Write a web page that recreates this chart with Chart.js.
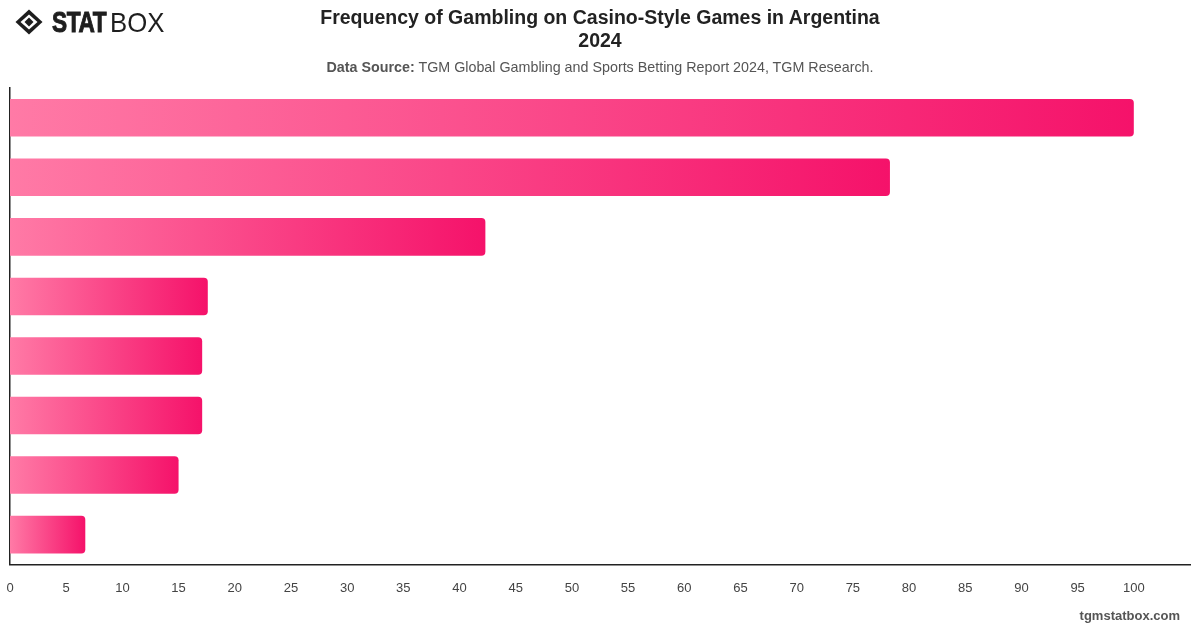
<!DOCTYPE html>
<html>
<head>
<meta charset="utf-8">
<script src="https://cdn.jsdelivr.net/npm/chart.js@4.4.1/dist/chart.umd.min.js"></script>
<style>
  html, body { margin: 0; padding: 0; background: #fff; }
  #wrap { position: relative; width: 1200px; height: 628px; overflow: hidden; font-family: "Liberation Sans", Arial, sans-serif; }
  #chart { position: absolute; left: 0; top: 0; }
  .title { position: absolute; left: 0; width: 1200px; text-align: center; color: #222; font-weight: bold; font-size: 19.5px; }
  #t1 { top: 6px; }
  #t2 { top: 29px; }
  #sub { position: absolute; left: 0; width: 1200px; text-align: center; top: 59px; font-size: 14.3px; color: #555; }
  #sub b { color: #555; }
  #logo { position: absolute; left: 14px; top: 7px; height: 30px; width: 200px; }
  #logo svg { position: absolute; left: 1px; top: 2px; }
  #logo .stat { position: absolute; left: 38px; top: -1px; font-family: "Liberation Sans", sans-serif; font-weight: 900; font-size: 29px; color: #1e1e1e; transform: scaleX(0.78); transform-origin: left center; letter-spacing: -0.5px; -webkit-text-stroke: 1px #1e1e1e; }
  #logo .box { position: absolute; left: 96px; top: 0px; font-family: "Liberation Sans", sans-serif; font-weight: normal; font-size: 28px; color: #1e1e1e; transform: scaleX(0.92); transform-origin: left center; }
  #foot { position: absolute; right: 20px; top: 608px; font-size: 13px; font-weight: bold; color: #555; }
</style>
</head>
<body>
<div id="wrap">
  <canvas id="chart" width="1200" height="628"></canvas>
  <div id="logo">
    <svg width="28" height="26" viewBox="0 0 28 26">
      <polygon points="14,0.5 27.5,13 14,25.5 0.5,13" fill="#1e1e1e"/>
      <polygon points="14,5.5 22.5,13 14,20.5 5.5,13" fill="#fff"/>
      <polygon points="14,8.5 18.5,13 14,17.5 9.5,13" fill="#1e1e1e"/>
    </svg>
    <span class="stat">STAT</span><span class="box">BOX</span>
  </div>
  <div class="title" id="t1">Frequency of Gambling on Casino-Style Games in Argentina</div>
  <div class="title" id="t2">2024</div>
  <div id="sub"><b>Data Source:</b> TGM Global Gambling and Sports Betting Report 2024, TGM Research.</div>
  <div id="foot">tgmstatbox.com</div>
</div>
<script>
const categories = ["Category 1", "Category 2", "Category 3", "Category 4", "Category 5", "Category 6", "Category 7", "Category 8"];
const values = [100, 78.3, 42.3, 17.6, 17.1, 17.1, 15.0, 6.7];
const xTickValues = [0, 5, 10, 15, 20, 25, 30, 35, 40, 45, 50, 55, 60, 65, 70, 75, 80, 85, 90, 95, 100];

function barGradient(ctx) {
  const chart = ctx.chart;
  const xs = chart.scales && chart.scales.x;
  if (!chart.chartArea || !xs || ctx.raw === undefined) return '#f5166a';
  const x0 = xs.getPixelForValue(0);
  const x1 = xs.getPixelForValue(ctx.raw);
  if (!isFinite(x0) || !isFinite(x1) || x1 - x0 < 1) return '#f5166a';
  const g = chart.ctx.createLinearGradient(x0, 0, x1, 0);
  g.addColorStop(0, '#ff7aa6');
  g.addColorStop(1, '#f5126a');
  return g;
}

new Chart(document.getElementById('chart'), {
  type: 'bar',
  data: {
    labels: categories,
    datasets: [{
      data: values,
      backgroundColor: barGradient,
      borderRadius: 4,
      borderSkipped: 'start',
      barPercentage: 0.9,
      categoryPercentage: 0.7
    }]
  },
  options: {
    indexAxis: 'y',
    responsive: false,
    animation: false,
    devicePixelRatio: 1,
    layout: { padding: { top: 88, left: 10, right: 10, bottom: 16 } },
    plugins: { legend: { display: false }, tooltip: { enabled: false } },
    scales: {
      x: {
        min: 0,
        max: 105,
        afterBuildTicks: (axis) => { axis.ticks = xTickValues.map(v => ({ value: v })); },
        afterFit: (axis) => { axis.paddingLeft = 0; axis.paddingRight = 0; },
        grid: { display: false, drawTicks: false },
        border: { display: true, color: '#222', width: 1.5 },
        ticks: { color: '#444', font: { family: 'Liberation Sans', size: 13 }, padding: 16 }
      },
      y: {
        afterFit: (axis) => { axis.width = 0; },
        grid: { display: false, drawTicks: false },
        border: { display: true, color: '#222', width: 1.5 },
        ticks: { display: false }
      }
    }
  }
});
</script>
</body>
</html>
